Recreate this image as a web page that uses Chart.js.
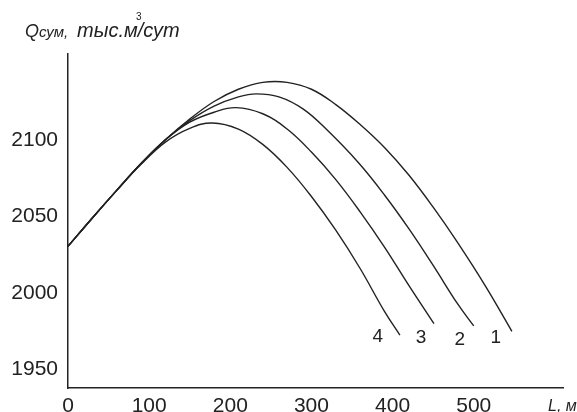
<!DOCTYPE html>
<html>
<head>
<meta charset="utf-8">
<script src="https://cdn.jsdelivr.net/npm/chart.js@4.4.1/dist/chart.umd.min.js"></script>
<style>
  html, body { margin: 0; padding: 0; background: #fff; }
  #wrap { width: 577px; height: 412px; }
</style>
</head>
<body>
<div id="wrap"><canvas id="chart" width="577" height="412"></canvas></div>
<script>
// tick labels
const xTicks = [0, 100, 200, 300, 400, 500];
const yTicks = [1950, 2000, 2050, 2100];
const curveNames = ['1', '2', '3', '4'];

// curve 1 (L, m / Q, thousand m3 per day)
const L1 = [0, 30, 60, 90, 120, 150, 180, 210, 240, 270, 300, 330, 360, 390, 420, 450, 480, 515, 547];
const Q1 = [2030.5, 2049, 2067, 2084.5, 2100, 2113.5, 2125, 2133, 2137.5, 2137.5, 2133, 2123, 2110, 2095, 2077, 2056, 2033, 2004, 1975];
// curve 2
const L2 = [0, 30, 60, 90, 120, 150, 180, 210, 232, 260, 290, 320, 358, 390, 420, 450, 480, 500];
const Q2 = [2030.5, 2049, 2067, 2084.5, 2100, 2112.5, 2122, 2128, 2130, 2128, 2120, 2106, 2085, 2064, 2042, 2018, 1993, 1978.5];
// curve 3
const L3 = [0, 30, 60, 90, 120, 150, 180, 207, 240, 270, 300, 330, 360, 390, 420, 451];
const Q3 = [2030.5, 2049, 2067, 2084.5, 2100, 2111.5, 2118, 2121, 2117, 2107, 2092, 2074, 2053, 2030, 2005, 1980];
// curve 4
const L4 = [0, 30, 60, 90, 120, 150, 178, 210, 240, 270, 300, 330, 360, 390, 409];
const Q4 = [2030.5, 2049, 2067, 2084, 2098.5, 2107.5, 2111, 2107, 2097, 2082, 2063, 2041, 2016, 1988, 1972.5];

const pts = (xs, ys) => xs.map((x, i) => ({ x, y: ys[i] }));
const ink = '#222';
const fontFam = '"Liberation Sans", Arial, sans-serif';

const curve = (name, xs, ys) => ({
  label: name,
  data: pts(xs, ys),
  borderColor: ink,
  borderWidth: 1.4,
  pointRadius: 0,
  tension: 0.4,
  fill: false
});

// label offsets from the end of each curve (px)
const labelOff = [[-16, 6], [-14, 14], [-13, 14], [-22, 2]];

const textPlugin = {
  id: 'texts',
  afterDraw(chart) {
    const ctx = chart.ctx;
    ctx.save();
    ctx.fillStyle = ink;
    ctx.textBaseline = 'alphabetic';
    ctx.textAlign = 'left';
    // y axis title
    ctx.font = 'italic 18px ' + fontFam;
    ctx.fillText('Q', 25, 37);
    ctx.font = 'italic 15px ' + fontFam;
    ctx.fillText('сум,', 39, 37);
    ctx.font = 'italic 20px ' + fontFam;
    ctx.fillText('тыс.м/сут', 77, 37);
    ctx.font = '10px ' + fontFam;
    ctx.fillText('3', 136, 20);
    // x axis title
    ctx.font = 'italic 16px ' + fontFam;
    ctx.fillText('L, м', 548, 411);
    // curve numbers
    ctx.font = '19px ' + fontFam;
    ctx.textAlign = 'center';
    ctx.textBaseline = 'middle';
    chart.data.datasets.forEach((ds, i) => {
      const meta = chart.getDatasetMeta(i);
      const last = meta.data[meta.data.length - 1];
      ctx.fillText(curveNames[i], last.x + labelOff[i][0], last.y + labelOff[i][1]);
    });
    ctx.restore();
  }
};

new Chart(document.getElementById('chart'), {
  type: 'line',
  data: {
    datasets: [
      curve('1', L1, Q1),
      curve('2', L2, Q2),
      curve('3', L3, Q3),
      curve('4', L4, Q4)
    ]
  },
  options: {
    responsive: false,
    animation: false,
    layout: { padding: { left: 0, top: 54, right: 14, bottom: 0 } },
    plugins: { legend: { display: false }, tooltip: { enabled: false } },
    scales: {
      x: {
        type: 'linear',
        min: 0,
        max: 610,
        afterBuildTicks: s => { s.ticks = xTicks.map(v => ({ value: v })); },
        afterFit: s => { s.height = 24; },
        grid: { display: false, drawTicks: false },
        border: { display: true, color: ink, width: 1.5 },
        ticks: { color: ink, font: { family: fontFam, size: 21 }, padding: 6, maxRotation: 0, callback: v => String(v) }
      },
      y: {
        type: 'linear',
        min: 1938,
        max: 2156,
        afterBuildTicks: s => { s.ticks = yTicks.map(v => ({ value: v })); },
        afterFit: s => { s.width = 68; },
        grid: { display: false, drawTicks: false },
        border: { display: true, color: ink, width: 1.5 },
        ticks: { color: ink, font: { family: fontFam, size: 21 }, padding: 10, callback: v => String(v) }
      }
    }
  },
  plugins: [textPlugin]
});
</script>
</body>
</html>
